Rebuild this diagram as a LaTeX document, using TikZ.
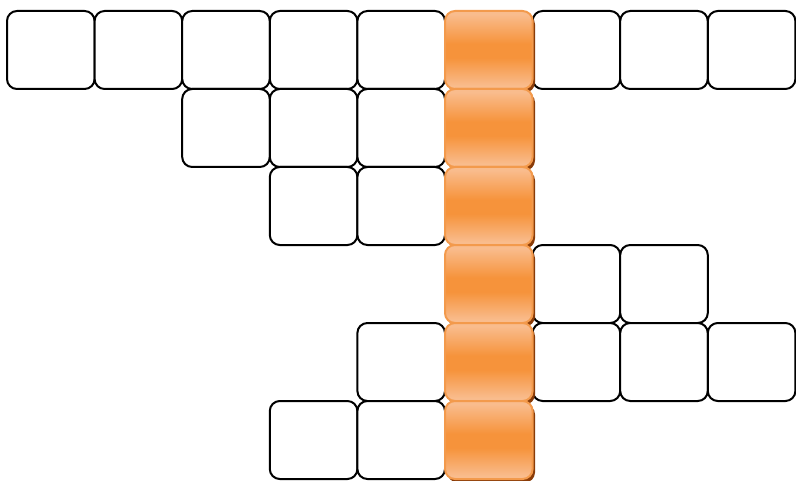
\documentclass[tikz,border=0pt]{standalone}
\usetikzlibrary{shadows}
\definecolor{orL}{HTML}{F9BC8D}
\definecolor{orM}{HTML}{F6933B}
\definecolor{orB}{HTML}{F39A4C}
\definecolor{shd}{HTML}{8A3C08}
\pgfdeclareverticalshading{orshade}{100bp}{color(0bp)=(orL); color(27bp)=(orL); color(45bp)=(orM); color(54bp)=(orM); color(73bp)=(orL); color(100bp)=(orL)}
\tikzset{
  cellbox/.style={draw=black, line width=1.5pt, rounded corners=7.5pt, fill=white,
    minimum width=65.7pt, minimum height=58.5pt, inner sep=0pt, outer sep=0pt},
  hotbox/.style={draw=orB, line width=1.5pt, rounded corners=7.5pt,
    shading=orshade,
    minimum width=65.7pt, minimum height=58.5pt, inner sep=0pt, outer sep=0pt,
    drop shadow={shadow xshift=1.8pt, shadow yshift=-2.6pt, fill=shd, opacity=1}}
}
\begin{document}
\begin{tikzpicture}[x=0.75pt,y=-0.75pt]
\useasboundingbox (0,0) rectangle (796,481);
\foreach \r/\c in {0/0,0/1,0/2,0/3,0/4,0/6,0/7,0/8,1/2,1/3,1/4,2/3,2/4,3/6,3/7,4/4,4/6,4/7,4/8,5/3,5/4}{
  \node[cellbox] (w-\r-\c) at ({7+87.6*(\c+0.5)},{11+78*(\r+0.5)}) {};
}
\foreach \r in {0,...,5}{
  \node[hotbox] (h-\r) at ({7+87.6*5.5},{11+78*(\r+0.5)}) {};
}
\end{tikzpicture}
\end{document}
